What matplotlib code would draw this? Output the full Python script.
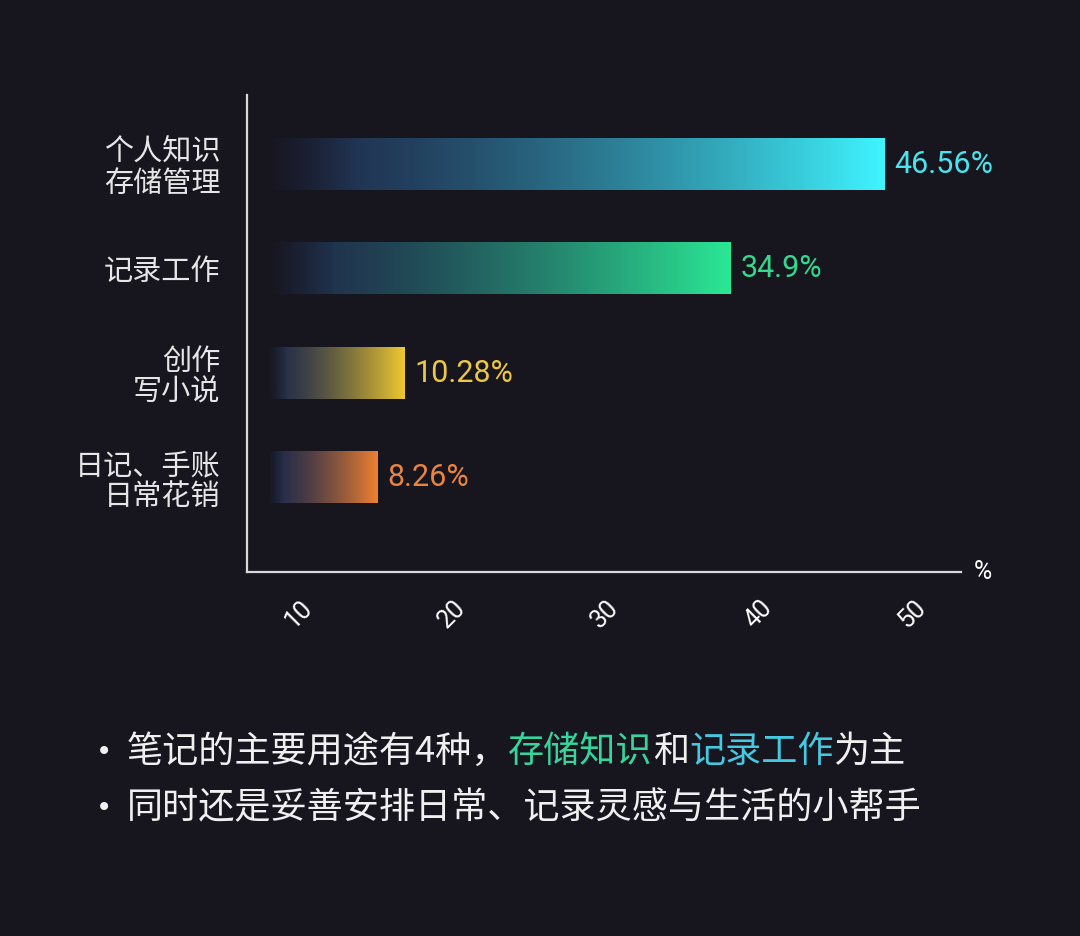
import matplotlib
matplotlib.use('Agg')
import matplotlib.pyplot as plt
import numpy as np
from matplotlib import font_manager
from matplotlib.colors import to_rgb

# chart data
categories = ['个人知识\n存储管理', '记录工作', '创作\n写小说', '日记、手账\n日常花销']
values = [46.56, 34.9, 10.28, 8.26]
value_labels = ['46.56%', '34.9%', '10.28%', '8.26%']
tick_values = [10, 20, 30, 40, 50]

bar_colors = ['#3ff4ff', '#2be895', '#f0c92e', '#f0812f']
text_colors = ['#4ae4ee', '#33d98d', '#ecc843', '#eb843e']

bg = '#17161f'
fg = '#e6e6e6'
navy = '#1f2a4a'

plt.rcParams['font.family'] = ['Noto Sans CJK SC', 'DejaVu Sans']

# pick a narrow face for the numbers if one is there
installed = {f.name for f in font_manager.fontManager.ttflist}
num_font = 'DejaVu Sans'
for name in ['Liberation Sans Narrow', 'Roboto', 'Liberation Sans']:
    if name in installed:
        num_font = name
        break

fig = plt.figure(figsize=(10.8, 9.36), dpi=100, facecolor=bg)
ax = fig.add_axes([0.2287, 0.3889, 0.6611, 0.5096])
ax.set_facecolor(bg)

ypos = np.arange(len(categories))
bar_h = 0.49

# gradient bars: navy fading in from the left, ending in the bar colour
n = 256
t = np.linspace(0, 1, n)
for i, (v, c) in enumerate(zip(values, bar_colors)):
    w = t ** 1.5
    start = np.array(to_rgb(navy))
    end = np.array(to_rgb(c))
    rgb = start[None, :] * (1 - w[:, None]) + end[None, :] * w[:, None]
    alpha = np.clip(t / 0.14, 0, 1)
    img = np.dstack([rgb[None, :, 0], rgb[None, :, 1], rgb[None, :, 2], alpha[None, :]])
    ax.imshow(img, extent=[0, v, i + bar_h / 2, i - bar_h / 2],
              aspect='auto', interpolation='bilinear', zorder=2)
    ax.annotate(value_labels[i], xy=(v, i), xytext=(7, 0), textcoords='offset points',
                va='center', ha='left', color=text_colors[i], fontsize=22,
                family=num_font)

ax.set_xlim(-1.6, 52.3)
ax.set_ylim(3.90, -0.66)

ax.set_yticks(ypos)
ax.set_yticklabels(categories, fontsize=21, color=fg, linespacing=1.05)
ax.tick_params(axis='y', length=0, pad=19)
ax.tick_params(axis='x', length=0, labelbottom=False)

for side in ['top', 'right']:
    ax.spines[side].set_visible(False)
for side in ['left', 'bottom']:
    ax.spines[side].set_color('#d8d8d8')
    ax.spines[side].set_linewidth(1.6)

# tick scale under the axis
def fwd(v):
    return 8.02 + 0.8637 * np.asarray(v)

def inv(tv):
    return (np.asarray(tv) - 8.02) / 0.8637

sec = ax.secondary_xaxis('bottom', functions=(fwd, inv))
sec.set_xticks(tick_values)
sec.set_xticklabels([str(x) for x in tick_values], rotation=45, color='white',
                    fontsize=18, family=num_font)
sec.tick_params(length=0, pad=17)
sec.spines['bottom'].set_visible(False)

ax.annotate('%', xy=(1, 0), xycoords='axes fraction', xytext=(16, 0),
            textcoords='offset points', va='center', ha='center',
            color='white', fontsize=18, family=num_font)

# summary lines under the chart
def rich_line(y, parts, fs=26):
    fig.text(104 / 1080, y, '•', color='#f0f0f0', fontsize=20, va='center', ha='center',
             family='DejaVu Sans')
    txt = fig.text(127 / 1080, y, parts[0][0], color=parts[0][1], fontsize=fs,
                   va='center', ha='left')
    for s, c in parts[1:]:
        txt = ax.annotate(s, xy=(1, 0.5), xycoords=txt, va='center', ha='left',
                          color=c, fontsize=fs, annotation_clip=False)

white = '#f0f0f0'
rich_line(1 - 752 / 936, [('笔记的主要用途有4种，', white), ('存储知识', '#36d59c'),
                          ('和', white), ('记录工作', '#45c8e2'), ('为主', white)])
rich_line(1 - 808 / 936, [('同时还是妥善安排日常、记录灵感与生活的小帮手', white)])

fig.savefig('out.png', dpi=100, facecolor=bg)
